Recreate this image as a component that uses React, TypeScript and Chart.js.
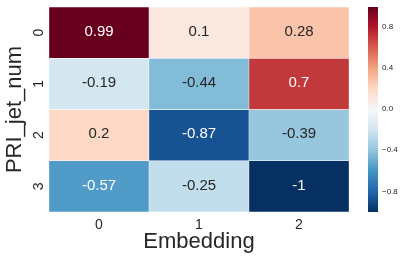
import React, { useEffect, useRef } from "react";
import { Chart, registerables } from "chart.js";

Chart.register(...registerables);

// ---- data ----
const embeddingLabels = ["0", "1", "2"];
const jetNumLabels = ["0", "1", "2", "3"];
const row0 = [0.99, 0.1, 0.28];
const row1 = [-0.19, -0.44, 0.7];
const row2 = [0.2, -0.87, -0.39];
const row3 = [-0.57, -0.25, -1.0];
const colorbarTicks = [0.8, 0.4, 0.0, -0.4, -0.8];
const vmin = -1.0;
const vmax = 0.99;

const rows = [row0, row1, row2, row3];

const FONT = "'Liberation Sans', Arial, Helvetica, sans-serif";
const DARK = "#262626";

// matplotlib RdBu_r
const RDBU_R = [
  [5, 48, 97],
  [33, 102, 172],
  [67, 147, 195],
  [146, 197, 222],
  [209, 229, 240],
  [247, 247, 247],
  [253, 219, 199],
  [244, 165, 130],
  [214, 96, 77],
  [178, 24, 43],
  [103, 0, 31],
];

function cmapRGB(t: number): number[] {
  const c = Math.max(0, Math.min(1, t)) * (RDBU_R.length - 1);
  const i = Math.min(RDBU_R.length - 2, Math.floor(c));
  const f = c - i;
  const a = RDBU_R[i];
  const b = RDBU_R[i + 1];
  return [0, 1, 2].map((k) => a[k] + (b[k] - a[k]) * f);
}

function colorFor(v: number): string {
  const [r, g, b] = cmapRGB((v - vmin) / (vmax - vmin));
  return `rgb(${Math.round(r)},${Math.round(g)},${Math.round(b)})`;
}

function textColorFor(v: number): string {
  const rgb = cmapRGB((v - vmin) / (vmax - vmin)).map((c) => {
    const s = c / 255;
    return s <= 0.03928 ? s / 12.92 : Math.pow((s + 0.055) / 1.055, 2.4);
  });
  const lum = 0.2126 * rgb[0] + 0.7152 * rgb[1] + 0.0722 * rgb[2];
  return lum > 0.408 ? DARK : "#ffffff";
}

function fmtCell(v: number): string {
  return String(Number(v.toPrecision(2)));
}

function fmtBar(v: number): string {
  if (Math.abs(v) < 1e-9) return "0.0";
  return (v < 0 ? "\u2212" : "") + Math.abs(v).toFixed(1);
}

function zeroPad(s: any) {
  s.paddingTop = 0;
  s.paddingBottom = 0;
  s.paddingLeft = 0;
  s.paddingRight = 0;
}

const cellLabelPlugin = {
  id: "cellLabels",
  afterDatasetsDraw(chart: any) {
    const ctx = chart.ctx;
    ctx.save();
    ctx.font = `15px ${FONT}`;
    ctx.textAlign = "center";
    ctx.textBaseline = "middle";
    chart.data.datasets.forEach((ds: any, di: number) => {
      const meta = chart.getDatasetMeta(di);
      meta.data.forEach((bar: any, ci: number) => {
        const v = rows[di][ci];
        ctx.fillStyle = textColorFor(v);
        const cy = (bar.y + bar.base) / 2;
        ctx.fillText(fmtCell(v), bar.x, cy - 1);
      });
    });
    ctx.restore();
  },
};

const colorbarPlugin = {
  id: "colorbar",
  afterDraw(chart: any) {
    const cb = chart.scales.cb;
    if (!cb) return;
    const ctx = chart.ctx;
    const yBottom = cb.getPixelForValue(vmin);
    const yTop = cb.getPixelForValue(vmax);
    const grad = ctx.createLinearGradient(0, yBottom, 0, yTop);
    RDBU_R.forEach((c, i) => {
      grad.addColorStop(i / (RDBU_R.length - 1), `rgb(${c[0]},${c[1]},${c[2]})`);
    });
    ctx.save();
    ctx.fillStyle = grad;
    ctx.fillRect(cb.left + 19, yTop, 10, yBottom - yTop);
    ctx.restore();
  },
};

export default function App() {
  const canvasRef = useRef<HTMLCanvasElement | null>(null);

  useEffect(() => {
    document.body.style.margin = "0";
    const canvas = canvasRef.current;
    if (!canvas) return;
    const chart = new Chart(canvas, {
      type: "bar",
      data: {
        labels: embeddingLabels,
        datasets: rows.map((row, r) => ({
          label: jetNumLabels[r],
          data: row.map(() => [r, r + 1]),
          backgroundColor: row.map((v) => colorFor(v)),
          borderColor: "#ffffff",
          borderWidth: 0.5,
          borderSkipped: false,
          barPercentage: 1,
          categoryPercentage: 1,
          grouped: false,
        })) as any,
      },
      options: {
        animation: false,
        responsive: false,
        events: [],
        layout: { padding: { top: 7, left: 0, right: 0, bottom: 0 } },
        plugins: {
          legend: { display: false },
          tooltip: { enabled: false },
        },
        scales: {
          x: {
            type: "category",
            offset: true,
            grid: { display: false, drawTicks: false },
            border: { display: false },
            ticks: { font: { family: FONT, size: 14 }, color: DARK, padding: 5 },
            title: {
              display: true,
              text: "Embedding",
              font: { family: FONT, size: 22 },
              color: DARK,
              padding: { top: 0, bottom: 6.5 },
            },
            afterFit: (s: any) => {
              s.height = 50;
              zeroPad(s);
            },
          },
          y: {
            type: "linear",
            min: 0,
            max: 4,
            reverse: true,
            grid: { display: false, drawTicks: false },
            border: { display: false },
            afterBuildTicks: (s: any) => {
              s.ticks = jetNumLabels.map((_, i) => ({ value: i + 0.5 }));
            },
            ticks: {
              callback: (_v: any, i: number) => jetNumLabels[i],
              minRotation: 90,
              maxRotation: 90,
              crossAlign: "center",
              font: { family: FONT, size: 14 },
              color: DARK,
              padding: 6,
            },
            title: {
              display: true,
              text: "PRI_jet_num",
              font: { family: FONT, size: 22 },
              color: DARK,
              padding: { top: 2, bottom: 0 },
            },
            afterFit: (s: any) => {
              s.width = 49;
              zeroPad(s);
            },
          },
          cb: {
            type: "linear",
            position: "right",
            min: vmin,
            max: vmax,
            grid: { display: false, drawTicks: false },
            border: { display: false },
            afterBuildTicks: (s: any) => {
              s.ticks = colorbarTicks.map((v) => ({ value: v }));
            },
            ticks: {
              callback: (v: any) => fmtBar(Number(v)),
              font: { family: FONT, size: 8 },
              color: DARK,
              padding: 33,
            },
            afterFit: (s: any) => {
              s.width = 58;
              zeroPad(s);
            },
          },
        } as any,
      },
      plugins: [cellLabelPlugin, colorbarPlugin],
    });
    return () => chart.destroy();
  }, []);

  return (
    <div style={{ width: 407, height: 262 }}>
      <canvas ref={canvasRef} width={407} height={262} style={{ display: "block" }} />
    </div>
  );
}
